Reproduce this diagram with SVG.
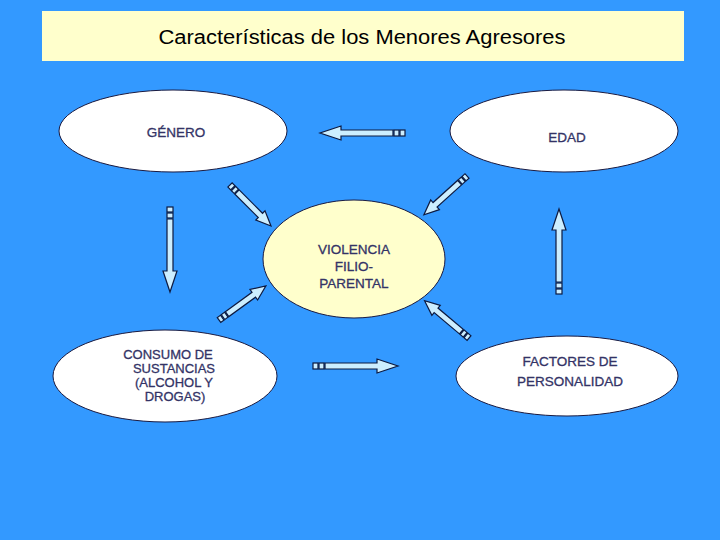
<svg xmlns="http://www.w3.org/2000/svg" width="720" height="540" viewBox="0 0 720 540">
<style>
.bg{fill:#3399ff}
.node{stroke:#1a1a40;stroke-width:1}
.wh{fill:#ffffff}
.yl{fill:#ffffcc}
.lbl{font-family:"Liberation Sans",Arial,sans-serif;font-size:13.5px;fill:#333366;stroke:#333366;stroke-width:0.3;text-anchor:middle}
.sm{font-size:13px}
.arr{fill:#cceeff;stroke:#0d1a40;stroke-width:1.2;stroke-linejoin:miter}
</style>
<defs>
<g id="longArrow">
<rect class="arr" x="0" y="-3" width="5" height="6"/>
<rect class="arr" x="6" y="-3" width="5" height="6"/>
<path class="arr" d="M12,-3 H64 V-7 L85,0 L64,7 V3 H12 Z"/>
</g>
<g id="shortArrow">
<rect class="arr" x="0" y="-3" width="4" height="6"/>
<rect class="arr" x="5" y="-3" width="4" height="6"/>
<path class="arr" d="M10,-3 H43 V-6.5 L58,0 L43,6.5 V3 H10 Z"/>
</g>
</defs>
<rect class="bg" x="0" y="0" width="720" height="540"/>
<g id="title">
<rect x="42" y="11" width="642" height="50" fill="#ffffcc"/>
<text x="362" y="44" font-family="Liberation Sans,Arial,sans-serif" font-size="20" fill="#000" text-anchor="middle" textLength="407" lengthAdjust="spacingAndGlyphs">Características de los Menores Agresores</text>
</g>
<g id="genero">
<ellipse class="node wh" cx="173" cy="131" rx="114" ry="41"/>
<text class="lbl" x="176" y="137">GÉNERO</text>
</g>
<g id="edad">
<ellipse class="node wh" cx="564" cy="131" rx="114" ry="41"/>
<text class="lbl" x="567" y="142">EDAD</text>
</g>
<g id="violencia">
<ellipse class="node yl" cx="354" cy="259" rx="91" ry="59"/>
<text class="lbl" x="354" y="254">VIOLENCIA</text>
<text class="lbl" x="354" y="271">FILIO-</text>
<text class="lbl" x="354" y="288">PARENTAL</text>
</g>
<g id="consumo">
<ellipse class="node wh" cx="165" cy="376" rx="112" ry="46"/>
<text class="lbl sm" x="168" y="359">CONSUMO DE</text>
<text class="lbl sm" x="174" y="373">SUSTANCIAS</text>
<text class="lbl sm" x="174" y="387">(ALCOHOL Y</text>
<text class="lbl sm" x="175" y="401">DROGAS)</text>
</g>
<g id="factores">
<ellipse class="node wh" cx="567" cy="376" rx="111" ry="40"/>
<text class="lbl" x="570" y="366">FACTORES DE</text>
<text class="lbl" x="570" y="386">PERSONALIDAD</text>
</g>
<g id="connectors">
<use href="#longArrow" transform="translate(405,133) rotate(180)"/>
<use href="#longArrow" transform="translate(313,366)"/>
<use href="#longArrow" transform="translate(170,207) rotate(90)"/>
<use href="#longArrow" transform="translate(559,294) rotate(-90)"/>
<use href="#shortArrow" transform="translate(230,185) rotate(45)"/>
<use href="#shortArrow" transform="translate(467,176) rotate(138)"/>
<use href="#shortArrow" transform="translate(219,320) rotate(-36)"/>
<use href="#shortArrow" transform="translate(469,338) rotate(-140)"/>
</g>
</svg>
